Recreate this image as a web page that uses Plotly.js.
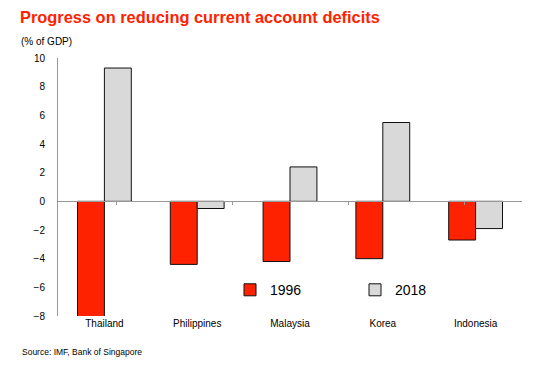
<!DOCTYPE html>
<html>
<head>
<meta charset="utf-8">
<script src="https://cdn.plot.ly/plotly-3.0.1.min.js"></script>
<style>html,body{margin:0;padding:0;background:#fff;}#chart{width:544px;height:376px;}</style>
</head>
<body>
<div id="chart"></div>
<script>
const categories = ["Thailand", "Philippines", "Malaysia", "Korea", "Indonesia"];
const series1996 = [-8.1, -4.4, -4.2, -4.0, -2.7];
const series2018 = [9.3, -0.5, 2.4, 5.5, -1.9];
const yTicks = [-8, -6, -4, -2, 0, 2, 4, 6, 8, 10];
const yRange = [-8, 10];

const font = "Liberation Sans, Arial, sans-serif";
const traces = [
  {type: "bar", name: "1996", x: categories, y: series1996,
   marker: {color: "#ff2200", line: {color: "#111", width: 1}}},
  {type: "bar", name: "2018", x: categories, y: series2018,
   marker: {color: "#d9d9d9", line: {color: "#111", width: 1}}},
  {type: "scatter", mode: "none", x: categories, y: categories.map(() => 0),
   xaxis: "x2", showlegend: false, hoverinfo: "skip"}
];
const zeroPos = (0 - yRange[0]) / (yRange[1] - yRange[0]);
const layout = {
  width: 544, height: 376,
  margin: {l: 58, r: 22, t: 58, b: 60},
  paper_bgcolor: "#fff", plot_bgcolor: "#fff",
  font: {family: font, color: "#000", size: 10},
  showlegend: true,
  barmode: "group", bargap: 0.42, bargroupgap: 0,
  title: {text: "<b>Progress on reducing current account deficits</b>",
          font: {family: font, size: 16.4, color: "#ff2200"},
          x: 20/544, xanchor: "left", y: 1 - 17/376, yanchor: "middle"},
  xaxis: {type: "category", showline: false, ticks: "", showgrid: false, zeroline: false,
          tickfont: {size: 10, family: font}, fixedrange: true},
  xaxis2: {type: "category", overlaying: "x", anchor: "free", position: zeroPos, side: "bottom",
           showline: true, linecolor: "#999", linewidth: 1,
           ticks: "outside", tickson: "boundaries", ticklen: 3, tickcolor: "#999",
           showticklabels: false, showgrid: false, zeroline: false},
  yaxis: {range: yRange, tickvals: yTicks, showline: true, linecolor: "#999", linewidth: 1,
          ticks: "", ticklabelstandoff: 10, showgrid: false, zeroline: false,
          tickfont: {size: 10, family: font}},
  legend: {orientation: "h", x: (230 - 58) / 464, xanchor: "left", y: 0.10, yanchor: "middle",
           font: {size: 14, family: font}, entrywidth: 80, bgcolor: "rgba(0,0,0,0)",
           itemclick: false},
  annotations: [
    {text: "(% of GDP)", xref: "paper", yref: "paper", x: -39/464, y: 1 + 16/258,
     xanchor: "left", yanchor: "middle", showarrow: false, font: {size: 10, family: font}},
    {text: "Source: IMF, Bank of Singapore", xref: "paper", yref: "paper", x: -38/464, y: -36/258,
     xanchor: "left", yanchor: "middle", showarrow: false, font: {size: 8.5, family: font}}
  ]
};
Plotly.newPlot("chart", traces, layout, {displayModeBar: false, staticPlot: true});
</script>
</body>
</html>
